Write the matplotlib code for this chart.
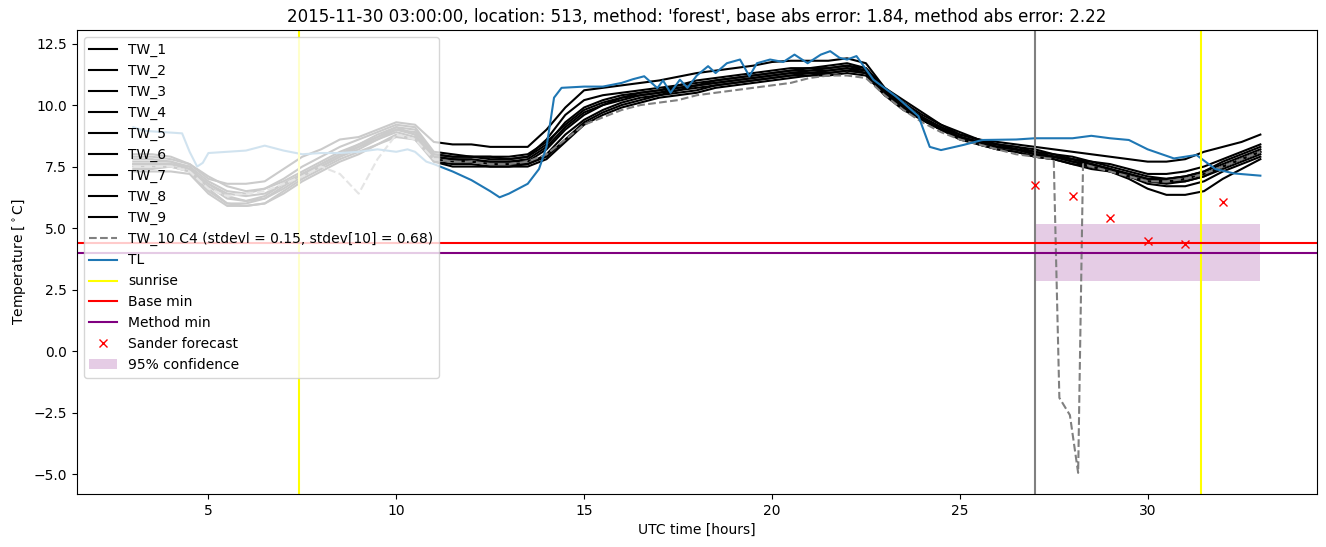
import numpy as np
import matplotlib.pyplot as plt

# common time grid for the TW sensors (UTC hours, half-hour steps)
hours = np.arange(3.0, 33.01, 0.5)

tw_1 = [8.0, 8.0, 7.9, 7.6, 7.0, 6.8, 6.8, 6.9, 7.4, 7.9,
        8.2, 8.6, 8.7, 9.0, 9.3, 9.2, 8.5, 8.4, 8.4, 8.3,
        8.3, 8.3, 9.0, 9.9, 10.6, 10.7, 10.8, 10.9, 11.0, 11.15,
        11.3, 11.4, 11.5, 11.6, 11.75, 11.8, 11.8, 11.8, 11.9, 11.7,
        10.7, 10.2, 9.7, 9.2, 8.8, 8.6, 8.5, 8.4, 8.3, 8.2,
        8.1, 8.0, 7.9, 7.8, 7.7, 7.7, 7.8, 8.1, 8.3, 8.5,
        8.8]
tw_2 = [7.6, 7.6, 7.6, 7.5, 6.6, 6.0, 5.9, 6.0, 6.5, 7.0,
        7.4, 7.8, 8.1, 8.4, 8.8, 8.6, 7.8, 7.7, 7.7, 7.6,
        7.6, 7.6, 8.0, 8.8, 9.4, 9.8, 10.1, 10.3, 10.4, 10.6,
        10.7, 10.8, 10.9, 11.0, 11.1, 11.2, 11.3, 11.3, 11.4, 11.3,
        10.5, 9.9, 9.4, 9.0, 8.7, 8.5, 8.3, 8.2, 8.0, 7.9,
        7.7, 7.5, 7.3, 7.0, 6.6, 6.35, 6.35, 6.5, 7.0, 7.4,
        7.8]
tw_3 = [7.7, 7.7, 7.7, 7.4, 6.8, 6.3, 6.1, 6.2, 6.6, 7.1,
        7.5, 7.9, 8.2, 8.6, 9.0, 8.9, 8.0, 7.9, 7.9, 7.8,
        7.8, 7.9, 8.4, 9.3, 9.9, 10.2, 10.4, 10.5, 10.6, 10.8,
        10.9, 11.0, 11.1, 11.2, 11.3, 11.4, 11.4, 11.5, 11.6, 11.4,
        10.6, 10.0, 9.5, 9.1, 8.8, 8.6, 8.4, 8.3, 8.1, 8.0,
        7.9, 7.7, 7.6, 7.4, 7.2, 7.2, 7.3, 7.5, 7.8, 8.1,
        8.4]
tw_4 = [7.4, 7.4, 7.5, 7.3, 6.5, 6.0, 6.0, 6.2, 6.7, 7.2,
        7.6, 8.0, 8.3, 8.7, 9.1, 8.8, 7.7, 7.6, 7.6, 7.5,
        7.5, 7.6, 7.9, 8.6, 9.3, 9.7, 10.0, 10.2, 10.4, 10.5,
        10.6, 10.8, 10.9, 11.0, 11.1, 11.2, 11.2, 11.3, 11.4, 11.3,
        10.4, 9.8, 9.4, 9.0, 8.7, 8.4, 8.2, 8.1, 7.9, 7.8,
        7.6, 7.5, 7.3, 7.1, 6.9, 6.9, 7.0, 7.2, 7.5, 7.8,
        8.1]
tw_5 = [7.8, 7.8, 7.7, 7.5, 6.9, 6.5, 6.4, 6.6, 6.9, 7.3,
        7.7, 8.1, 8.4, 8.8, 9.1, 9.0, 8.0, 7.9, 7.9, 7.9,
        7.8, 7.9, 8.6, 9.6, 10.2, 10.4, 10.5, 10.6, 10.7, 10.8,
        11.0, 11.1, 11.2, 11.3, 11.4, 11.5, 11.5, 11.6, 11.7, 11.5,
        10.7, 10.1, 9.6, 9.2, 8.9, 8.6, 8.4, 8.3, 8.2, 8.0,
        7.8, 7.7, 7.5, 7.3, 7.1, 7.0, 7.1, 7.3, 7.7, 8.0,
        8.3]
tw_6 = [7.5, 7.5, 7.5, 7.3, 6.7, 6.2, 6.1, 6.3, 6.8, 7.2,
        7.5, 7.9, 8.3, 8.6, 8.9, 8.7, 7.9, 7.8, 7.7, 7.7,
        7.7, 7.7, 8.2, 9.0, 9.6, 10.0, 10.2, 10.4, 10.5, 10.6,
        10.8, 10.9, 11.0, 11.1, 11.2, 11.3, 11.4, 11.4, 11.5, 11.3,
        10.5, 10.0, 9.5, 9.1, 8.7, 8.5, 8.3, 8.2, 8.0, 7.9,
        7.8, 7.6, 7.4, 7.2, 7.0, 6.9, 6.9, 7.1, 7.4, 7.7,
        8.0]
tw_7 = [7.9, 7.9, 7.8, 7.6, 7.1, 6.7, 6.5, 6.6, 7.0, 7.5,
        7.9, 8.3, 8.6, 8.9, 9.2, 9.1, 8.1, 8.0, 7.9, 7.9,
        7.9, 8.0, 8.5, 9.2, 9.8, 10.1, 10.3, 10.5, 10.6, 10.7,
        10.8, 11.0, 11.1, 11.2, 11.3, 11.4, 11.5, 11.5, 11.6, 11.5,
        10.6, 10.0, 9.5, 9.0, 8.7, 8.5, 8.4, 8.2, 8.1, 7.9,
        7.8, 7.6, 7.4, 7.2, 7.0, 7.0, 7.1, 7.3, 7.6, 7.9,
        8.2]
tw_8 = [7.3, 7.3, 7.3, 7.2, 6.4, 5.9, 5.9, 6.0, 6.4, 6.9,
        7.3, 7.7, 8.0, 8.4, 8.7, 8.6, 7.7, 7.5, 7.5, 7.5,
        7.5, 7.5, 7.8, 8.5, 9.2, 9.6, 9.9, 10.1, 10.3, 10.4,
        10.5, 10.7, 10.8, 10.9, 11.0, 11.1, 11.2, 11.2, 11.3, 11.2,
        10.4, 9.9, 9.4, 9.0, 8.6, 8.4, 8.2, 8.1, 7.9, 7.8,
        7.6, 7.4, 7.3, 7.1, 6.9, 6.8, 6.9, 7.1, 7.5, 7.8,
        8.1]
tw_9 = [7.6, 7.6, 7.6, 7.4, 6.8, 6.4, 6.3, 6.4, 6.8, 7.2,
        7.6, 8.0, 8.4, 8.7, 9.0, 8.8, 7.9, 7.8, 7.8, 7.7,
        7.7, 7.8, 8.3, 9.1, 9.7, 10.0, 10.3, 10.4, 10.5, 10.7,
        10.8, 10.9, 11.0, 11.1, 11.2, 11.3, 11.3, 11.4, 11.5, 11.4,
        10.5, 9.9, 9.4, 9.0, 8.7, 8.5, 8.3, 8.2, 8.0, 7.9,
        7.7, 7.6, 7.4, 7.1, 6.8, 6.7, 6.7, 6.9, 7.3, 7.6,
        7.9]

# TW_10 has a sensor glitch after 27.5 h, so it keeps its own times there
tw10_dip_hours = [27.65, 27.75, 27.93, 28.15, 28.28]
tw_10 = [7.5, 7.5, 7.5, 7.3, 6.6, 6.3, 6.4, 6.5, 6.8, 7.1,
         7.5, 7.2, 6.4, 7.8, 8.8, 8.6, 7.8, 7.7, 7.7, 7.6,
         7.6, 7.7, 8.0, 8.6, 9.2, 9.5, 9.8, 10.0, 10.1, 10.2,
         10.4, 10.5, 10.6, 10.7, 10.8, 10.9, 11.1, 11.2, 11.2, 11.1,
         10.4, 9.8, 9.3, 8.9, 8.6, 8.4, 8.2, 8.0, 7.9, 7.8,
         -1.9, -2.15, -2.6, -4.95, 7.6,
         7.5, 7.3, 7.1, 6.9, 6.9, 7.0, 7.2, 7.5, 7.8, 8.1]
tw10_hours = np.concatenate([hours[hours <= 27.5], tw10_dip_hours, hours[hours >= 28.5]])

tl_hours = [3.0, 3.3, 3.8, 4.3, 4.5, 4.7, 4.85, 5.0, 5.5, 6.0, 6.5, 7.0, 7.5, 8.0,
            8.5, 9.0, 9.5, 10.0, 10.3, 10.5, 10.8, 11.0, 11.5, 12.0, 12.5, 12.75,
            13.0, 13.5, 13.8, 14.0, 14.2, 14.4, 15.0, 15.5, 16.0, 16.3, 16.6, 16.95,
            17.1, 17.3, 17.55, 17.75, 18.0, 18.3, 18.5, 18.8, 19.15, 19.4, 19.6,
            19.95, 20.3, 20.6, 20.95, 21.3, 21.55, 21.8, 22.0, 22.25, 22.7, 23.3,
            23.9, 24.2, 24.5, 25.1, 25.6, 26.5, 27.0, 28.0, 28.5, 29.0, 29.5, 30.0,
            30.7, 31.3, 31.8, 32.3, 33.0]
tl = [9.1, 8.95, 8.9, 8.85, 8.1, 7.5, 7.65, 8.05, 8.1, 8.15, 8.35, 8.15, 8.0, 8.05,
      8.05, 8.1, 8.2, 8.1, 8.2, 8.1, 7.7, 7.6, 7.3, 6.95, 6.5, 6.25,
      6.4, 6.8, 7.4, 8.3, 10.3, 10.7, 10.75, 10.75, 10.9, 11.05, 11.17, 10.69,
      11.0, 10.5, 11.03, 10.7, 11.2, 11.58, 11.3, 11.7, 11.85, 11.17, 11.7,
      11.85, 11.75, 12.05, 11.7, 12.05, 12.19, 11.92, 11.85, 11.99, 11.03, 10.35,
      9.55, 8.3, 8.17, 8.38, 8.58, 8.6, 8.65, 8.65, 8.75, 8.65, 8.58, 8.2,
      7.83, 7.97, 7.4, 7.22, 7.13]

sunrise = [7.42, 31.42]
forecast_time = 27.0
base_min = 4.38
method_min = 3.99
sander_hours = [27, 28, 29, 30, 31, 32]
sander_temp = [6.74, 6.3, 5.39, 4.46, 4.37, 6.04]
conf_hours = [27, 33]
conf_low = 2.84
conf_high = 5.18

fig, ax = plt.subplots(figsize=(13.26, 5.47))

tw_series = [tw_1, tw_2, tw_3, tw_4, tw_5, tw_6, tw_7, tw_8, tw_9]
for i, tw in enumerate(tw_series):
    ax.plot(hours, tw, color='black', label=f'TW_{i+1}')
ax.plot(tw10_hours, tw_10, color='grey', linestyle='--',
        label='TW_10 C4 (stdevl = 0.15, stdev[10] = 0.68)')
ax.plot(tl_hours, tl, color='C0', label='TL')

ax.axvline(forecast_time, color='grey')
ax.axvline(sunrise[0], color='yellow', label='sunrise')
ax.axvline(sunrise[1], color='yellow')
ax.axhline(base_min, color='red', label='Base min')
ax.axhline(method_min, color='purple', label='Method min')
ax.plot(sander_hours, sander_temp, 'rx', label='Sander forecast')
ax.fill_between(conf_hours, conf_low, conf_high, color='purple', alpha=0.2,
                linewidth=0, label='95% confidence')

ax.set_title("2015-11-30 03:00:00, location: 513, method: 'forest', "
             "base abs error: 1.84, method abs error: 2.22")
ax.set_xlabel('UTC time [hours]')
ax.set_ylabel('Temperature [$^\\circ$C]')
ax.legend(loc='upper left')

plt.subplots_adjust(left=0.058, right=0.993, top=0.945, bottom=0.097)
plt.savefig('out.png', dpi=100)
